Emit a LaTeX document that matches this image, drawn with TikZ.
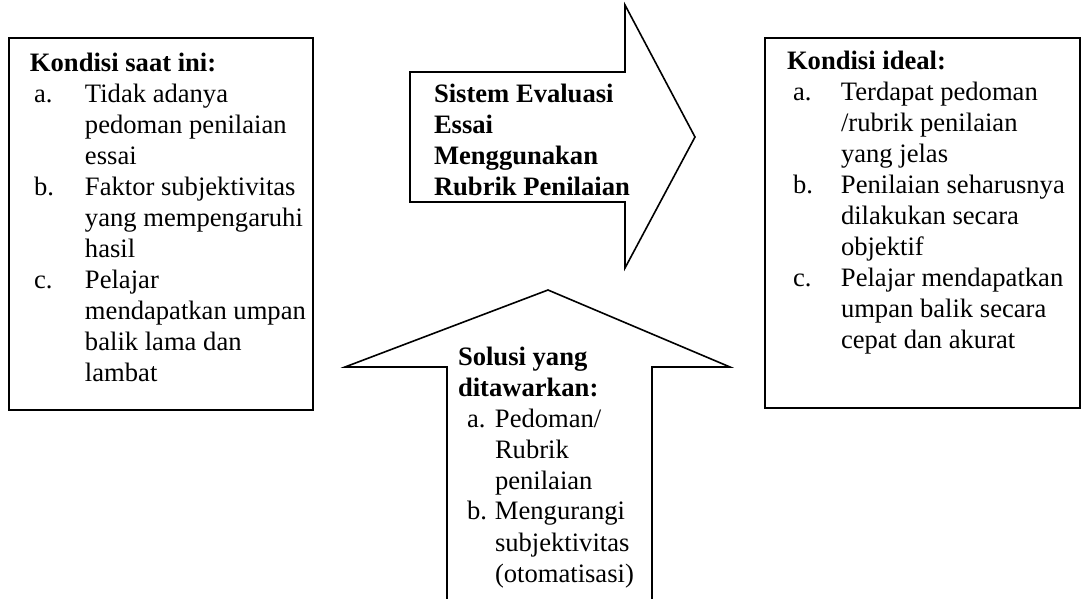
\documentclass[tikz,border=0pt]{standalone}
\usepackage{fontspec}
\setmainfont{Liberation Serif}
\newcommand\lbl[2]{\makebox[#1][l]{#2}}
\newlength\skipline
\setlength\skipline{15.5pt}
\begin{document}
\begin{tikzpicture}[x=0.5pt,y=-0.5pt]
\tikzset{
  frame/.style={draw, line width=0.8pt, inner sep=0pt, outer sep=0pt, anchor=north west},
  shapeline/.style={draw, line width=0.8pt, line join=miter},
  txt/.style={anchor=base west, inner sep=0pt, outer sep=0pt, font=\fontsize{13.3}{15.5}\selectfont}
}
\useasboundingbox (0,0) rectangle (1083,599);
% left box
\node[frame, minimum width=152pt, minimum height=186pt] (leftbox) at (9,38) {};
\node[txt] (lefttext) at (30,72) {\begin{minipage}[t]{160pt}\lineskiplimit=-100pt\baselineskip=\skipline
\textbf{Kondisi saat ini:}\\
\hspace*{2pt}\lbl{25.5pt}{a.}Tidak adanya\\
\hspace*{27.5pt}pedoman penilaian\\
\hspace*{27.5pt}essai\\
\hspace*{2pt}\lbl{25.5pt}{b.}Faktor subjektivitas\\
\hspace*{27.5pt}yang mempengaruhi\\
\hspace*{27.5pt}hasil\\
\hspace*{2pt}\lbl{25.5pt}{c.}Pelajar\\
\hspace*{27.5pt}mendapatkan umpan\\
\hspace*{27.5pt}balik lama dan\\
\hspace*{27.5pt}lambat\par
\end{minipage}};
% right box
\node[frame, minimum width=157.5pt, minimum height=185pt] (rightbox) at (765,38) {};
\node[txt] (righttext) at (787,70) {\begin{minipage}[t]{160pt}\lineskiplimit=-100pt\baselineskip=\skipline
\textbf{Kondisi ideal:}\\
\hspace*{3pt}\lbl{24pt}{a.}Terdapat pedoman\\
\hspace*{27pt}/rubrik penilaian\\
\hspace*{27pt}yang jelas\\
\hspace*{3pt}\lbl{24pt}{b.}Penilaian seharusnya\\
\hspace*{27pt}dilakukan secara\\
\hspace*{27pt}objektif\\
\hspace*{3pt}\lbl{24pt}{c.}Pelajar mendapatkan\\
\hspace*{27pt}umpan balik secara\\
\hspace*{27pt}cepat dan akurat\par
\end{minipage}};
% right arrow
\draw[shapeline] (410,72) -- (625,72) -- (625,5) -- (695,137) -- (625,268) -- (625,202) -- (410,202) -- cycle;
\node[txt] (arrowtext) at (434,103) {\begin{minipage}[t]{120pt}\lineskiplimit=-100pt\baselineskip=\skipline\bfseries
Sistem Evaluasi\\
Essai\\
Menggunakan\\
Rubrik Penilaian\par
\end{minipage}};
% up arrow
\draw[shapeline] (447,599) -- (447,367) -- (345,367) -- (548,290) -- (730,367) -- (652,367) -- (652,599);
\node[txt] (uptext) at (458,365) {\begin{minipage}[t]{120pt}\lineskiplimit=-100pt\baselineskip=\skipline
\textbf{Solusi yang}\\
\textbf{ditawarkan:}\\
\hspace*{4.5pt}\lbl{14pt}{a.}Pedoman/\\
\hspace*{18.5pt}Rubrik\\
\hspace*{18.5pt}penilaian\\
\hspace*{4.5pt}\lbl{14pt}{b.}Mengurangi\\
\hspace*{18.5pt}subjektivitas\\
\hspace*{18.5pt}(otomatisasi)\par
\end{minipage}};
\end{tikzpicture}
\end{document}
